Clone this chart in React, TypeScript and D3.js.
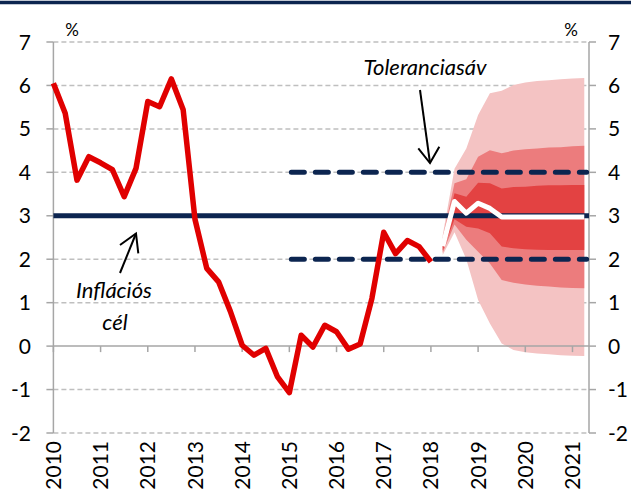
import React from "react";
import * as d3 from "d3";

const W = 631;
const H = 500;

// Quarterly CPI, 2010Q1 .. 2018Q1
const cpiStart = 2010;
const cpiValues = [
  6.05, 5.36, 3.82, 4.36,
  4.22, 4.06, 3.44, 4.09,
  5.63, 5.51, 6.15, 5.44,
  2.92, 1.79, 1.48, 0.8,
  0.02, -0.21, -0.05, -0.71,
  -1.07, 0.25, -0.02, 0.48,
  0.33, -0.07, 0.05, 1.1,
  2.62, 2.13, 2.43, 2.29,
  1.94,
];

// Projection, 2018Q2 .. 2021Q2
const fanStart = 2018.25;
const central = [2.3, 3.33, 3.06, 3.29, 3.17, 2.97, 2.97, 2.97, 2.97, 2.97, 2.97, 2.97, 2.97];
const innerUpper = [2.42, 3.52, 3.44, 3.76, 3.75, 3.63, 3.66, 3.67, 3.69, 3.7, 3.7, 3.71, 3.71];
const innerLower = [2.2, 2.92, 2.75, 2.71, 2.6, 2.29, 2.25, 2.23, 2.22, 2.21, 2.21, 2.21, 2.21];
const midUpper = [2.5, 3.75, 3.84, 4.36, 4.51, 4.44, 4.5, 4.53, 4.55, 4.57, 4.58, 4.6, 4.61];
const midLower = [2.15, 2.8, 2.45, 2.17, 1.9, 1.52, 1.46, 1.42, 1.39, 1.37, 1.35, 1.34, 1.33];
const outerUpper = [2.55, 4.08, 4.55, 5.32, 5.82, 5.88, 6.01, 6.07, 6.1, 6.12, 6.14, 6.16, 6.17];
const outerLower = [2.1, 2.62, 2.0, 1.06, 0.52, 0.06, -0.09, -0.14, -0.17, -0.19, -0.21, -0.22, -0.23];

const targetValue = 3;
const toleranceBands = [2, 4];
const toleranceStart = 2015;

const yearTicks = [2010, 2011, 2012, 2013, 2014, 2015, 2016, 2017, 2018, 2019, 2020, 2021];
const yTicks = [-2, -1, 0, 1, 2, 3, 4, 5, 6, 7];

const NAVY = "#0C2550";
const RED = "#E00000";
const FONT = "Lato, 'Open Sans', sans-serif";

export default function App() {
  const x = d3.scaleLinear().domain([2010, 2021.35]).range([53.4, 589]);
  const y = d3.scaleLinear().domain([-2, 7]).range([433, 42]);
  const x0 = x.range()[0];
  const x1 = x.range()[1];

  const cpiPts = cpiValues.map((v, i) => [cpiStart + i / 4, v] as [number, number]);
  const line = d3
    .line<[number, number]>()
    .x((d) => x(d[0]))
    .y((d) => y(d[1]));

  const fanX = (i: number) => x(fanStart + i / 4);
  const band = (up: number[], lo: number[]) =>
    d3
      .area<number>()
      .x((_, i) => fanX(i))
      .y0((_, i) => y(lo[i]))
      .y1((_, i) => y(up[i]))(up) || "";

  const centralPath =
    d3
      .line<number>()
      .x((_, i) => fanX(i))
      .y((d) => y(d))(central) || "";

  return (
    <svg
      width={W}
      height={H}
      style={{ position: "absolute", left: 0, top: 0, background: "#fff" }}
      fontFamily={FONT}
    >
      <rect x={0} y={0} width={W} height={H} fill="#fff" />
      {/* top border */}
      <line x1={0} x2={W} y1={2.5} y2={2.5} stroke={NAVY} strokeWidth={3.5} />

      {/* gridlines */}
      {yTicks
        .filter((t) => t !== 0)
        .map((t) => (
          <line
            key={"g" + t}
            x1={x0}
            x2={x1}
            y1={y(t)}
            y2={y(t)}
            stroke="#BFBFBF"
            strokeWidth={1.5}
            strokeDasharray="5,3"
          />
        ))}

      {/* fan */}
      <path d={band(outerUpper, outerLower)} fill="#F4C3C3" />
      <path d={band(midUpper, midLower)} fill="#EC7C7D" />
      <path d={band(innerUpper, innerLower)} fill="#E34242" />

      {/* zero axis */}
      <line x1={x0} x2={x1} y1={y(0)} y2={y(0)} stroke="#A6A6A6" strokeWidth={1.5} />
      {yearTicks.map((t) => (
        <line
          key={"xt" + t}
          x1={x(t)}
          x2={x(t)}
          y1={y(0)}
          y2={y(0) + 6}
          stroke="#A6A6A6"
          strokeWidth={1.5}
        />
      ))}

      {/* left / right axes */}
      <line x1={x0} x2={x0} y1={y(7)} y2={y(-2)} stroke="#A6A6A6" strokeWidth={1.5} />
      <line x1={x1} x2={x1} y1={y(7)} y2={y(-2)} stroke="#A6A6A6" strokeWidth={1.5} />
      {yTicks.map((t) => (
        <g key={"yt" + t}>
          <line x1={x0 - 7} x2={x0} y1={y(t)} y2={y(t)} stroke="#A6A6A6" strokeWidth={1.5} />
          <line x1={x1} x2={x1 + 7} y1={y(t)} y2={y(t)} stroke="#A6A6A6" strokeWidth={1.5} />
          <text x={31} y={y(t)} dy="0.36em" textAnchor="end" fontSize={21} fill="#000">
            {t}
          </text>
          <text x={608} y={y(t)} dy="0.36em" textAnchor="start" fontSize={21} fill="#000">
            {t}
          </text>
        </g>
      ))}
      <text x={72} y={36} textAnchor="middle" fontSize={17}>%</text>
      <text x={571} y={36} textAnchor="middle" fontSize={17}>%</text>

      {/* year labels */}
      {yearTicks.map((t) => (
        <text
          key={"yl" + t}
          transform={`translate(${x(t)},441) rotate(-90)`}
          textAnchor="end"
          dy="0.36em"
          fontSize={21}
        >
          {t}
        </text>
      ))}

      {/* target line */}
      <line
        x1={x0}
        x2={x1}
        y1={y(targetValue)}
        y2={y(targetValue)}
        stroke={NAVY}
        strokeWidth={5}
      />
      {/* tolerance band */}
      {toleranceBands.map((b) => (
        <line
          key={"tb" + b}
          x1={x(toleranceStart) + 2}
          x2={x(2021.3)}
          y1={y(b)}
          y2={y(b)}
          stroke={NAVY}
          strokeWidth={5}
          strokeDasharray="13,11"
          strokeLinecap="round"
        />
      ))}

      {/* central projection */}
      <path d={centralPath} fill="none" stroke="#fff" strokeWidth={5} strokeLinejoin="round" />

      {/* CPI */}
      <path
        d={line(cpiPts) || ""}
        fill="none"
        stroke={RED}
        strokeWidth={5.5}
        strokeLinejoin="round"
      />

      {/* annotations */}
      <text x={425} y={75} textAnchor="middle" fontSize={22} fontStyle="italic">
        Toleranciasáv
      </text>
      <g stroke="#000" strokeWidth={2} fill="none">
        <line x1={420} y1={90} x2={430} y2={163} />
        <polyline points="418.3,148.3 430,163 439.3,146.7" />
        <line x1={120} y1={273} x2={136} y2={233.5} />
        <polyline points="120,245 136,233.5 138.3,253.3" />
      </g>
      <text x={114} y={298} textAnchor="middle" fontSize={22} fontStyle="italic">
        Inflációs
      </text>
      <text x={115} y={330} textAnchor="middle" fontSize={22} fontStyle="italic">
        cél
      </text>
    </svg>
  );
}
